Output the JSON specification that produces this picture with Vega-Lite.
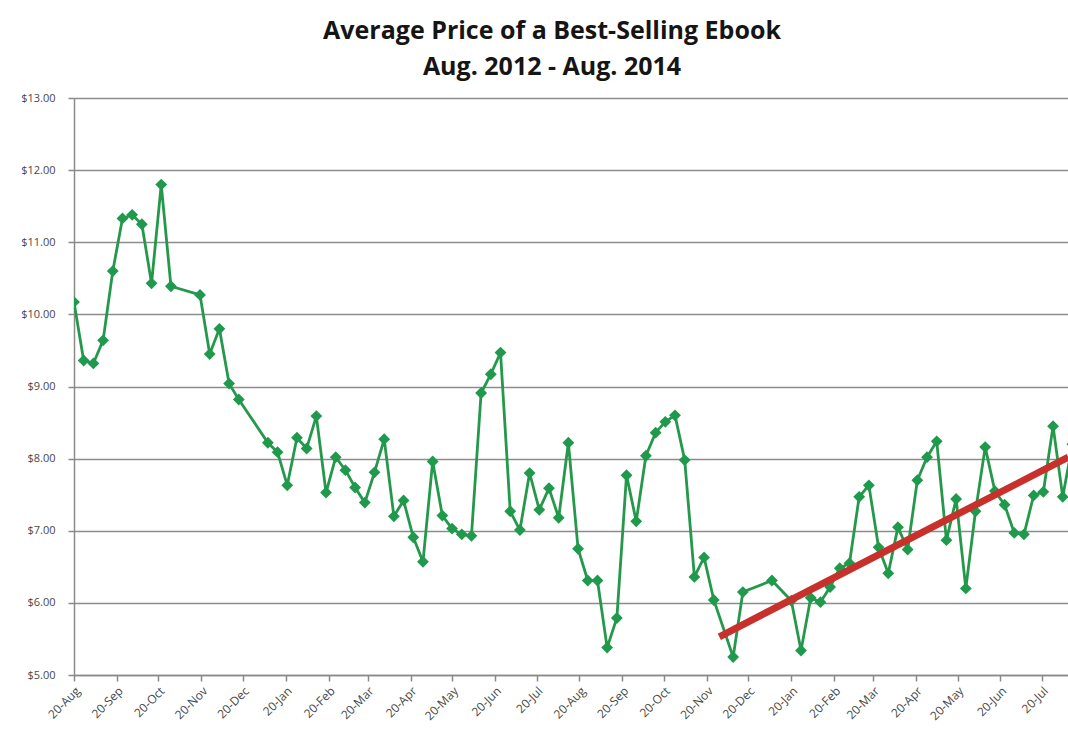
{
  "$schema": "https://vega.github.io/schema/vega-lite/v6.json",
  "width": 994,
  "height": 577,
  "autosize": {"type": "none"},
  "padding": {"left": 74, "top": 98, "right": 0, "bottom": 58},
  "background": "white",
  "title": {
    "text": ["Average Price of  a Best-Selling Ebook", "Aug. 2012 - Aug. 2014"],
    "font": "Open Sans",
    "fontSize": 25,
    "fontWeight": "bold",
    "color": "#151515",
    "anchor": "middle",
    "frame": "group",
    "dx": -19,
    "lineHeight": 36,
    "offset": 12
  },
  "config": {
    "view": {"stroke": null},
    "axis": {
      "labelFont": "Open Sans",
      "labelFontSize": 11,
      "labelColor": "#484848",
      "domainColor": "#8a8a8a",
      "tickColor": "#8a8a8a",
      "domainWidth": 1.5,
      "tickWidth": 1.5,
      "tickSize": 6,
      "title": null
    }
  },
  "datasets": {
    "price": [
      {"date": "2012-08-20", "price": 10.17},
      {"date": "2012-08-27", "price": 9.36},
      {"date": "2012-09-03", "price": 9.32},
      {"date": "2012-09-10", "price": 9.64},
      {"date": "2012-09-17", "price": 10.60},
      {"date": "2012-09-24", "price": 11.33},
      {"date": "2012-10-01", "price": 11.38},
      {"date": "2012-10-08", "price": 11.25},
      {"date": "2012-10-15", "price": 10.43},
      {"date": "2012-10-22", "price": 11.80},
      {"date": "2012-10-29", "price": 10.39},
      {"date": "2012-11-19", "price": 10.27},
      {"date": "2012-11-26", "price": 9.45},
      {"date": "2012-12-03", "price": 9.80},
      {"date": "2012-12-10", "price": 9.04},
      {"date": "2012-12-17", "price": 8.82},
      {"date": "2013-01-07", "price": 8.22},
      {"date": "2013-01-14", "price": 8.09},
      {"date": "2013-01-21", "price": 7.63},
      {"date": "2013-01-28", "price": 8.29},
      {"date": "2013-02-04", "price": 8.14},
      {"date": "2013-02-11", "price": 8.59},
      {"date": "2013-02-18", "price": 7.53},
      {"date": "2013-02-25", "price": 8.02},
      {"date": "2013-03-04", "price": 7.84},
      {"date": "2013-03-11", "price": 7.60},
      {"date": "2013-03-18", "price": 7.39},
      {"date": "2013-03-25", "price": 7.81},
      {"date": "2013-04-01", "price": 8.27},
      {"date": "2013-04-08", "price": 7.20},
      {"date": "2013-04-15", "price": 7.42},
      {"date": "2013-04-22", "price": 6.91},
      {"date": "2013-04-29", "price": 6.57},
      {"date": "2013-05-06", "price": 7.96},
      {"date": "2013-05-13", "price": 7.21},
      {"date": "2013-05-20", "price": 7.03},
      {"date": "2013-05-27", "price": 6.95},
      {"date": "2013-06-03", "price": 6.93},
      {"date": "2013-06-10", "price": 8.91},
      {"date": "2013-06-17", "price": 9.17},
      {"date": "2013-06-24", "price": 9.47},
      {"date": "2013-07-01", "price": 7.27},
      {"date": "2013-07-08", "price": 7.01},
      {"date": "2013-07-15", "price": 7.80},
      {"date": "2013-07-22", "price": 7.29},
      {"date": "2013-07-29", "price": 7.59},
      {"date": "2013-08-05", "price": 7.18},
      {"date": "2013-08-12", "price": 8.22},
      {"date": "2013-08-19", "price": 6.75},
      {"date": "2013-08-26", "price": 6.31},
      {"date": "2013-09-02", "price": 6.31},
      {"date": "2013-09-09", "price": 5.38},
      {"date": "2013-09-16", "price": 5.79},
      {"date": "2013-09-23", "price": 7.77},
      {"date": "2013-09-30", "price": 7.13},
      {"date": "2013-10-07", "price": 8.04},
      {"date": "2013-10-14", "price": 8.36},
      {"date": "2013-10-21", "price": 8.51},
      {"date": "2013-10-28", "price": 8.60},
      {"date": "2013-11-04", "price": 7.98},
      {"date": "2013-11-11", "price": 6.36},
      {"date": "2013-11-18", "price": 6.63},
      {"date": "2013-11-25", "price": 6.04},
      {"date": "2013-12-09", "price": 5.25},
      {"date": "2013-12-16", "price": 6.15},
      {"date": "2014-01-06", "price": 6.31},
      {"date": "2014-01-20", "price": 6.03},
      {"date": "2014-01-27", "price": 5.34},
      {"date": "2014-02-03", "price": 6.07},
      {"date": "2014-02-10", "price": 6.01},
      {"date": "2014-02-17", "price": 6.22},
      {"date": "2014-02-24", "price": 6.48},
      {"date": "2014-03-03", "price": 6.55},
      {"date": "2014-03-10", "price": 7.47},
      {"date": "2014-03-17", "price": 7.63},
      {"date": "2014-03-24", "price": 6.77},
      {"date": "2014-03-31", "price": 6.41},
      {"date": "2014-04-07", "price": 7.05},
      {"date": "2014-04-14", "price": 6.74},
      {"date": "2014-04-21", "price": 7.70},
      {"date": "2014-04-28", "price": 8.02},
      {"date": "2014-05-05", "price": 8.24},
      {"date": "2014-05-12", "price": 6.87},
      {"date": "2014-05-19", "price": 7.44},
      {"date": "2014-05-26", "price": 6.20},
      {"date": "2014-06-02", "price": 7.27},
      {"date": "2014-06-09", "price": 8.16},
      {"date": "2014-06-16", "price": 7.55},
      {"date": "2014-06-23", "price": 7.36},
      {"date": "2014-06-30", "price": 6.97},
      {"date": "2014-07-07", "price": 6.95},
      {"date": "2014-07-14", "price": 7.49},
      {"date": "2014-07-21", "price": 7.54},
      {"date": "2014-07-28", "price": 8.45},
      {"date": "2014-08-04", "price": 7.47},
      {"date": "2014-08-11", "price": 8.20}
    ],
    "trend": [
      {"date": "2013-11-29", "price": 5.53},
      {"date": "2014-08-08", "price": 8.02}
    ]
  },
  "encoding": {
    "x": {
      "field": "date",
      "type": "temporal",
      "scale": {
        "type": "utc",
        "domain": [
          {"year": 2012, "month": 8, "date": 20, "utc": true},
          {"year": 2014, "month": 8, "date": 7, "hours": 19, "utc": true}
        ]
      },
      "axis": {
        "format": "%d-%b",
        "labelAngle": -45,
        "labelPadding": 4,
        "labelFontSize": 12,
        "grid": false,
        "labelOverlap": false,
        "values": [
          {"year": 2012, "month": 8, "date": 20, "utc": true},
          {"year": 2012, "month": 9, "date": 20, "utc": true},
          {"year": 2012, "month": 10, "date": 20, "utc": true},
          {"year": 2012, "month": 11, "date": 20, "utc": true},
          {"year": 2012, "month": 12, "date": 20, "utc": true},
          {"year": 2013, "month": 1, "date": 20, "utc": true},
          {"year": 2013, "month": 2, "date": 20, "utc": true},
          {"year": 2013, "month": 3, "date": 20, "utc": true},
          {"year": 2013, "month": 4, "date": 20, "utc": true},
          {"year": 2013, "month": 5, "date": 20, "utc": true},
          {"year": 2013, "month": 6, "date": 20, "utc": true},
          {"year": 2013, "month": 7, "date": 20, "utc": true},
          {"year": 2013, "month": 8, "date": 20, "utc": true},
          {"year": 2013, "month": 9, "date": 20, "utc": true},
          {"year": 2013, "month": 10, "date": 20, "utc": true},
          {"year": 2013, "month": 11, "date": 20, "utc": true},
          {"year": 2013, "month": 12, "date": 20, "utc": true},
          {"year": 2014, "month": 1, "date": 20, "utc": true},
          {"year": 2014, "month": 2, "date": 20, "utc": true},
          {"year": 2014, "month": 3, "date": 20, "utc": true},
          {"year": 2014, "month": 4, "date": 20, "utc": true},
          {"year": 2014, "month": 5, "date": 20, "utc": true},
          {"year": 2014, "month": 6, "date": 20, "utc": true},
          {"year": 2014, "month": 7, "date": 20, "utc": true}
        ]
      }
    },
    "y": {
      "field": "price",
      "type": "quantitative",
      "scale": {"domain": [5, 13], "nice": false, "zero": false},
      "axis": {
        "format": "$.2f",
        "values": [5, 6, 7, 8, 9, 10, 11, 12, 13],
        "grid": true,
        "gridColor": "#8c8c8c",
        "gridWidth": 1.5,
        "labelPadding": 13
      }
    }
  },
  "layer": [
    {
      "data": {"name": "price"},
      "mark": {
        "type": "line",
        "color": "#25984b",
        "strokeWidth": 2.8,
        "clip": true,
        "point": {"shape": "diamond", "size": 140, "filled": true, "color": "#1f9a4d", "clip": true}
      }
    },
    {
      "data": {"name": "trend"},
      "mark": {"type": "line", "color": "#c8302c", "strokeWidth": 7, "clip": true, "strokeCap": "butt"}
    }
  ]
}
